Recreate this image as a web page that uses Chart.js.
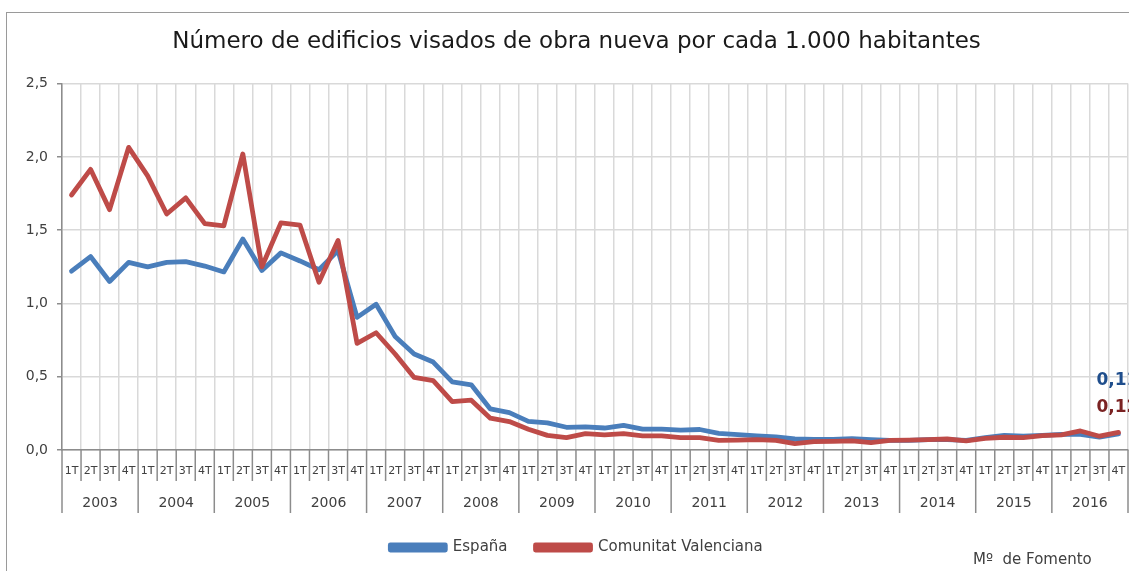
<!DOCTYPE html>
<html>
<head>
<meta charset="utf-8">
<script src="https://cdn.jsdelivr.net/npm/chart.js@4"></script>
<style>
html, body { margin:0; padding:0; background:#fff; overflow:hidden; width:1129px; height:571px; }
#frame { position:absolute; left:6px; top:12px; width:1300px; height:700px; border:1px solid #9a9a9a; box-sizing:border-box; }
#wrap { position:absolute; left:0; top:0; width:1156px; height:571px; }
</style>
</head>
<body>
<div id="frame"></div>
<div id="wrap"><canvas id="lineChart"></canvas></div>
<script>
var years = ['2003','2004','2005','2006','2007','2008','2009','2010','2011','2012','2013','2014','2015','2016'];
var quarters = ['1T','2T','3T','4T'];

// edificios por cada 1.000 habitantes, trimestral
var espana = [
  1.22, 1.32, 1.15, 1.28,
  1.25, 1.28, 1.285, 1.255,
  1.215, 1.44, 1.225, 1.345,
  1.29, 1.23, 1.36, 0.905,
  0.995, 0.775, 0.655, 0.60,
  0.465, 0.445, 0.28, 0.255,
  0.195, 0.185, 0.155, 0.158,
  0.15, 0.168, 0.142, 0.142,
  0.135, 0.14, 0.114, 0.105,
  0.096, 0.089, 0.075, 0.073,
  0.073, 0.078, 0.071, 0.066,
  0.066, 0.071, 0.071, 0.066,
  0.084, 0.10, 0.094, 0.10,
  0.107, 0.107, 0.088, 0.11
];
var valenciana = [
  1.74, 1.915, 1.64, 2.065,
  1.87, 1.61, 1.72, 1.545,
  1.53, 2.02, 1.25, 1.55,
  1.535, 1.145, 1.43, 0.728,
  0.80, 0.655, 0.495, 0.473,
  0.33, 0.34, 0.217, 0.194,
  0.142, 0.10, 0.085, 0.112,
  0.103, 0.112, 0.096, 0.096,
  0.085, 0.084, 0.066, 0.068,
  0.071, 0.066, 0.043, 0.057,
  0.059, 0.062, 0.05, 0.066,
  0.068, 0.071, 0.075, 0.062,
  0.08, 0.087, 0.084, 0.098,
  0.103, 0.13, 0.094, 0.12
];
var lastLabels = ['0,11', '0,12'];

var labels = [];
years.forEach(function(y){
  quarters.forEach(function(q){ labels.push(q); });
});

var FONT = 'DejaVu Sans';

var extras = {
  id: 'extras',
  afterDraw: function(chart) {
    var ctx = chart.ctx;
    var xs = chart.scales.x;
    var ys = chart.scales.y;
    var area = chart.chartArea;
    var w = (xs.right - xs.left) / labels.length;
    ctx.save();
    // separadores de trimestres y años
    ctx.strokeStyle = '#8c8c8c';
    ctx.lineWidth = 1.5;
    for (var k = 0; k <= labels.length; k++) {
      var x = xs.left + k * w;
      ctx.beginPath();
      ctx.moveTo(x, area.bottom);
      ctx.lineTo(x, area.bottom + (k % 4 == 0 ? 63 : 31));
      ctx.stroke();
    }
    // años
    ctx.fillStyle = '#404040';
    ctx.font = '14px "' + FONT + '"';
    ctx.textAlign = 'center';
    ctx.textBaseline = 'middle';
    years.forEach(function(y, i){
      var cx = (xs.getPixelForValue(i*4) + xs.getPixelForValue(i*4+3)) / 2;
      ctx.fillText(y, cx, area.bottom + 53);
    });
    // ultimo valor
    ctx.font = 'bold 17px "' + FONT + '"';
    ctx.textAlign = 'left';
    var cols = ['#1f4e8c', '#7a2222'];
    var offs = [53, 25];
    chart.data.datasets.forEach(function(ds, i){
      var n = ds.data.length - 1;
      var px = xs.getPixelForValue(n);
      var py = ys.getPixelForValue(ds.data[n]);
      ctx.fillStyle = cols[i];
      ctx.fillText(lastLabels[i], px - 22, py - offs[i]);
    });
    // fuente
    ctx.fillStyle = '#404040';
    ctx.font = '15px "' + FONT + '"';
    ctx.fillText('M\u00BA  de Fomento', 973, 560);
    ctx.restore();
  }
};

var ctxL = document.getElementById('lineChart').getContext('2d');
var myLineChart = new Chart(ctxL, {
  type: 'line',
  data: {
    labels: labels,
    datasets: [{
      label: 'España',
      data: espana,
      borderColor: '#4a7ebb',
      backgroundColor: '#4a7ebb',
      borderWidth: 4.8,
      pointRadius: 0,
      tension: 0,
      borderJoinStyle: 'round',
      borderCapStyle: 'round',
      order: 2
    },
    {
      label: 'Comunitat Valenciana',
      data: valenciana,
      borderColor: '#be4b48',
      backgroundColor: '#be4b48',
      borderWidth: 4.8,
      pointRadius: 0,
      tension: 0,
      borderJoinStyle: 'round',
      borderCapStyle: 'round',
      order: 1
    }]
  },
  options: {
    responsive: true,
    maintainAspectRatio: false,
    animation: false,
    layout: { padding: { left: 25, right: 28, top: 0, bottom: 6 } },
    plugins: {
      tooltip: { enabled: false },
      title: {
        display: true,
        text: 'Número de edificios visados de obra nueva por cada 1.000 habitantes',
        color: '#1a1a1a',
        font: { family: FONT, size: 23, weight: 'normal' },
        padding: { top: 28, bottom: 28 }
      },
      legend: {
        position: 'bottom',
        labels: {
          boxWidth: 55,
          boxHeight: 5,
          padding: 28,
          color: '#404040',
          font: { family: FONT, size: 15 },
          sort: function(a, b){ return a.datasetIndex - b.datasetIndex; }
        }
      }
    },
    scales: {
      x: {
        offset: true,
        grid: { offset: true, color: '#d9d9d9', lineWidth: 1.5, drawTicks: false },
        border: { color: '#8c8c8c', width: 1.5 },
        ticks: { autoSkip: false, maxRotation: 0, padding: 15, color: '#404040', font: { family: FONT, size: 11 } },
        afterFit: function(s){ s.height = 62; }
      },
      y: {
        min: 0,
        max: 2.5,
        ticks: {
          stepSize: 0.5,
          padding: 9,
          color: '#404040',
          font: { family: FONT, size: 14 },
          callback: function(v){ return v.toFixed(1).replace('.', ','); }
        },
        grid: { color: '#d9d9d9', lineWidth: 1.5, tickLength: 5, tickColor: '#8c8c8c' },
        border: { color: '#8c8c8c', width: 1.5 },
        afterFit: function(s){ s.width = 37; }
      }
    }
  },
  plugins: [extras]
});
</script>
</body>
</html>
